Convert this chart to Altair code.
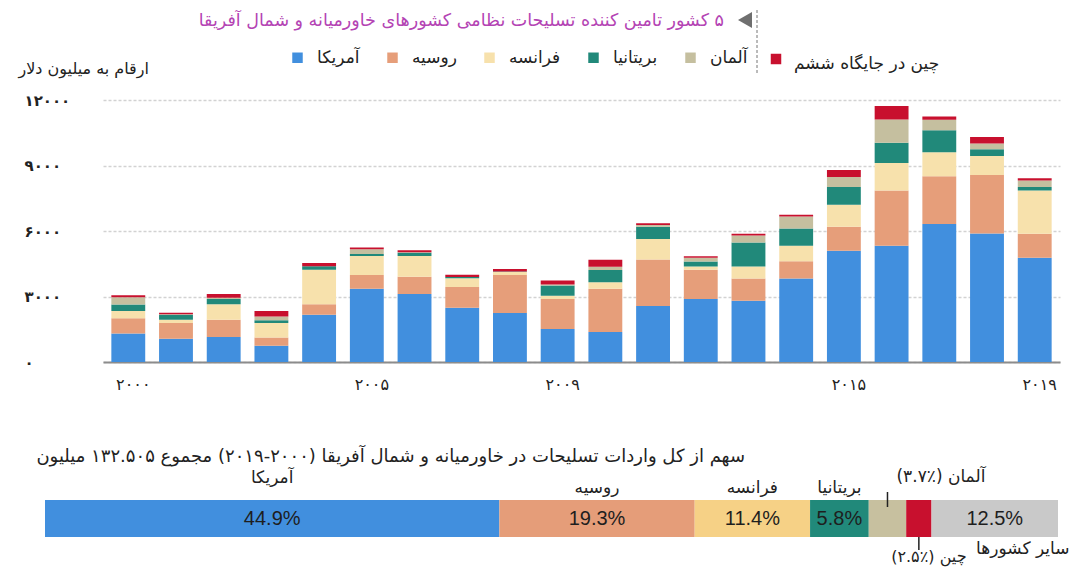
import altair as alt
import pandas as pd

FONT = "DejaVu Sans"
RLE, PDF = "\u202b", "\u202c"


def rtl(s):
    return RLE + s + PDF


# ---------------- data ----------------
years = [str(y) for y in range(2000, 2020)]
countries = ["آمریکا", "روسیه", "فرانسه", "بریتانیا", "آلمان", "چین"]
usa = [1300, 1070, 1140, 750, 2160, 3350, 3110, 2480, 2240, 1510,
       1370, 2560, 2880, 2800, 3820, 5090, 5330, 6320, 5880, 4770]
russia = [700, 720, 790, 370, 490, 640, 790, 950, 1740, 1370,
          1980, 2130, 1340, 1020, 790, 1110, 2530, 2190, 2680, 1100]
france = [340, 140, 720, 670, 1570, 870, 960, 410, 140, 150,
          300, 940, 150, 550, 720, 1000, 1250, 1100, 870, 1980]
uk = [290, 230, 240, 120, 170, 90, 140, 50, 20, 470,
      560, 560, 230, 1100, 780, 810, 930, 1000, 310, 170]
germany = [340, 30, 50, 170, 0, 210, 30, 0, 0, 50,
           150, 80, 180, 320, 550, 460, 1070, 490, 270, 290]
china = [90, 70, 180, 260, 150, 90, 90, 110, 120, 180,
         320, 80, 60, 80, 80, 320, 620, 140, 290, 110]
bar_colors = ["#418fde", "#e69e7a", "#f7e1ac", "#21897a", "#c5bf9f", "#c8102e"]

y_ticks = [0, 3000, 6000, 9000, 12000]
y_tick_labels = ["۰", "۳۰۰۰", "۶۰۰۰", "۹۰۰۰", "۱۲۰۰۰"]
x_label_years = ["2000", "2005", "2009", "2015", "2019"]
x_label_texts = ["۲۰۰۰", "۲۰۰۵", "۲۰۰۹", "۲۰۱۵", "۲۰۱۹"]

title_text = "۵ کشور تامین کننده تسلیحات نظامی کشورهای خاورمیانه و شمال آفریقا"
china_legend_text = "چین در جایگاه ششم"
y_title = "ارقام به میلیون دلار"
share_heading = "سهم از کل واردات تسلیحات در خاورمیانه و شمال آفریقا (۲۰۰۰-۲۰۱۹) مجموع ۱۳۲.۵۰۵ میلیون"

share_names = ["آمریکا", "روسیه", "فرانسه", "بریتانیا", "آلمان", "چین", "سایر کشورها"]
share_values = [44.9, 19.3, 11.4, 5.8, 3.7, 2.5, 12.5]
share_pct = ["44.9%", "19.3%", "11.4%", "5.8%", "", "", "12.5%"]
share_labels = ["آمریکا", "روسیه", "فرانسه", "بریتانیا", "آلمان (٪۳.۷)", "چین (٪۲.۵)", "سایر کشورها"]
share_colors = ["#418fde", "#e59d79", "#f6d186", "#21897a", "#c7c09f", "#c8102e", "#c9c9c9"]

# ---------------- tables ----------------
rows = []
for k, (name, vals) in enumerate(zip(countries, [usa, russia, france, uk, germany, china])):
    for yr, v in zip(years, vals):
        rows.append({"year": yr, "country": name, "value": v, "k": k})
bars_df = pd.DataFrame(rows)

share_df = pd.DataFrame({
    "name": share_names,
    "share": share_values,
    "pct": share_pct,
    "label": [rtl(s) for s in share_labels],
    "k": list(range(len(share_names))),
})


def str_lookup(field, keys, vals):
    expr = "''"
    for k, v in reversed(list(zip(keys, vals))):
        expr = f"{field} == '{k}' ? '{v}' : ({expr})"
    return expr


def num_lookup(field, keys, vals):
    expr = "''"
    for k, v in reversed(list(zip(keys, vals))):
        expr = f"{field} == {k} ? '{v}' : ({expr})"
    return expr


# ---------------- top stacked bars ----------------
bars = alt.Chart(bars_df).mark_bar().encode(
    x=alt.X(
        "year:O",
        scale=alt.Scale(domain=years, paddingInner=0.29, paddingOuter=0.175),
        axis=alt.Axis(
            title=None, labelExpr=str_lookup("datum.label", x_label_years, x_label_texts),
            ticks=False, domain=True, domainColor="#8c8c8c", domainWidth=2,
            labelAngle=0, labelFontSize=16, labelPadding=14, labelOffset=5,
            labelColor="#222222", labelFont=FONT, grid=False,
        ),
    ),
    y=alt.Y(
        "value:Q", stack="zero",
        scale=alt.Scale(domain=[0, 12000], nice=False),
        axis=alt.Axis(
            values=y_ticks, labelExpr=num_lookup("datum.value", y_ticks, y_tick_labels),
            title=rtl(y_title), titleAngle=0, titleAlign="left", titleBaseline="middle",
            titleX=-85, titleY=-32, titleFontSize=16, titleFontWeight="normal",
            titleFont=FONT, titleColor="#222222",
            ticks=False, domain=False, grid=True, gridColor="#d2d2d2",
            gridDash=[3, 2], gridWidth=1.5,
            labelAlign="left", labelPadding=79, labelFontSize=15, labelFont=FONT,
            labelColor="#222222", labelFontWeight="bold",
        ),
    ),
    color=alt.Color(
        "country:N",
        scale=alt.Scale(domain=countries, range=bar_colors),
        legend=alt.Legend(
            values=countries[:5], orient="none", legendX=186, legendY=-51,
            direction="horizontal", title=None, symbolType="square", symbolSize=110,
            symbolStrokeWidth=0, labelFontSize=17, labelFont=FONT, labelColor="#222222",
            columnPadding=24, labelOffset=11,
        ),
    ),
    order=alt.Order("k:Q", sort="ascending"),
)

one = pd.DataFrame({"t": [rtl(title_text)], "c": [rtl(china_legend_text)],
                    "h": [rtl(share_heading)]})

title = alt.Chart(one).mark_text(
    align="right", baseline="middle", fontSize=17.5, color="#b444b4", font=FONT
).encode(x=alt.value(621), y=alt.value(-79), text="t:N")

triangle = alt.Chart(one).mark_point(
    shape="triangle-left", filled=True, size=260, color="#6f6f6f", opacity=1
).encode(x=alt.value(642), y=alt.value(-80))

sep = alt.Chart(one).mark_rule(strokeDash=[3, 2], color="#777777", strokeWidth=1).encode(
    x=alt.value(654), y=alt.value(-95), y2=alt.value(-27)
)

china_sq = alt.Chart(one).mark_square(size=110, color="#c8102e", opacity=1).encode(
    x=alt.value(673), y=alt.value(-41)
)
china_txt = alt.Chart(one).mark_text(
    align="left", baseline="middle", fontSize=17, color="#222222", font=FONT
).encode(x=alt.value(691), y=alt.value(-36), text="c:N")

heading = alt.Chart(one).mark_text(
    align="right", baseline="middle", fontSize=18, color="#222222", font=FONT
).encode(x=alt.value(642), y=alt.value(357), text="h:N")

# ---------------- bottom share bar ----------------
bx = alt.Scale(domain=[0, 100.1], range=[-58, 955])
base_b = alt.Chart(share_df).transform_window(
    end="sum(share)", sort=[alt.SortField("k")], frame=[None, 0]
).transform_calculate(
    start="datum.end - datum.share", mid="datum.end - datum.share / 2"
)

segs = base_b.mark_rect().encode(
    x=alt.X("start:Q", scale=bx, axis=None),
    x2="end:Q",
    y=alt.value(400), y2=alt.value(437),
    color=alt.Color("name:N", scale=alt.Scale(domain=share_names, range=share_colors),
                    legend=None),
)

pct = base_b.transform_filter("datum.pct != ''").mark_text(
    fontSize=20, color="#1e1e1e", font="Liberation Sans", baseline="middle"
).encode(x=alt.X("mid:Q", scale=bx, axis=None), y=alt.value(419), text="pct:N")

lab_usa = base_b.transform_filter("datum.k == 0").mark_text(
    fontSize=17, color="#222222", font=FONT, baseline="middle"
).encode(x=alt.X("mid:Q", scale=bx, axis=None), y=alt.value(378), text="label:N")

lab_mid = base_b.transform_filter("datum.k >= 1 && datum.k <= 3").mark_text(
    fontSize=17, color="#222222", font=FONT, baseline="middle"
).encode(x=alt.X("mid:Q", scale=bx, axis=None), y=alt.value(388), text="label:N")

lab_ger = base_b.transform_filter("datum.k == 4").mark_text(
    fontSize=17, color="#222222", font=FONT, baseline="middle", align="left", dx=9
).encode(x=alt.X("mid:Q", scale=bx, axis=None), y=alt.value(377), text="label:N")

tick_ger = base_b.transform_filter("datum.k == 4").mark_rule(color="#222222", strokeWidth=1.5).encode(
    x=alt.X("mid:Q", scale=bx, axis=None), y=alt.value(392), y2=alt.value(407)
)

lab_chn = base_b.transform_filter("datum.k == 5").mark_text(
    fontSize=16, color="#222222", font=FONT, baseline="middle", dx=10
).encode(x=alt.X("mid:Q", scale=bx, axis=None), y=alt.value(457), text="label:N")

tick_chn = base_b.transform_filter("datum.k == 5").mark_rule(color="#222222", strokeWidth=1.5).encode(
    x=alt.X("mid:Q", scale=bx, axis=None), y=alt.value(437), y2=alt.value(450)
)

lab_oth = base_b.transform_filter("datum.k == 6").mark_text(
    fontSize=17, color="#222222", font=FONT, baseline="middle", dx=28
).encode(x=alt.X("mid:Q", scale=bx, axis=None), y=alt.value(449), text="label:N")

chart = alt.layer(
    bars, title, triangle, sep, china_sq, china_txt, heading,
    segs, pct, lab_usa, lab_mid, lab_ger, tick_ger, lab_chn, tick_chn, lab_oth,
).resolve_scale(
    x="independent", y="independent", color="independent"
).properties(
    width=957, height=262,
    autosize=alt.AutoSizeParams(type="none"),
    padding={"left": 95, "top": 92, "right": 13, "bottom": 205},
).configure_view(stroke=None)

chart.save("out.html", embed_options={"renderer": "svg", "actions": False})
